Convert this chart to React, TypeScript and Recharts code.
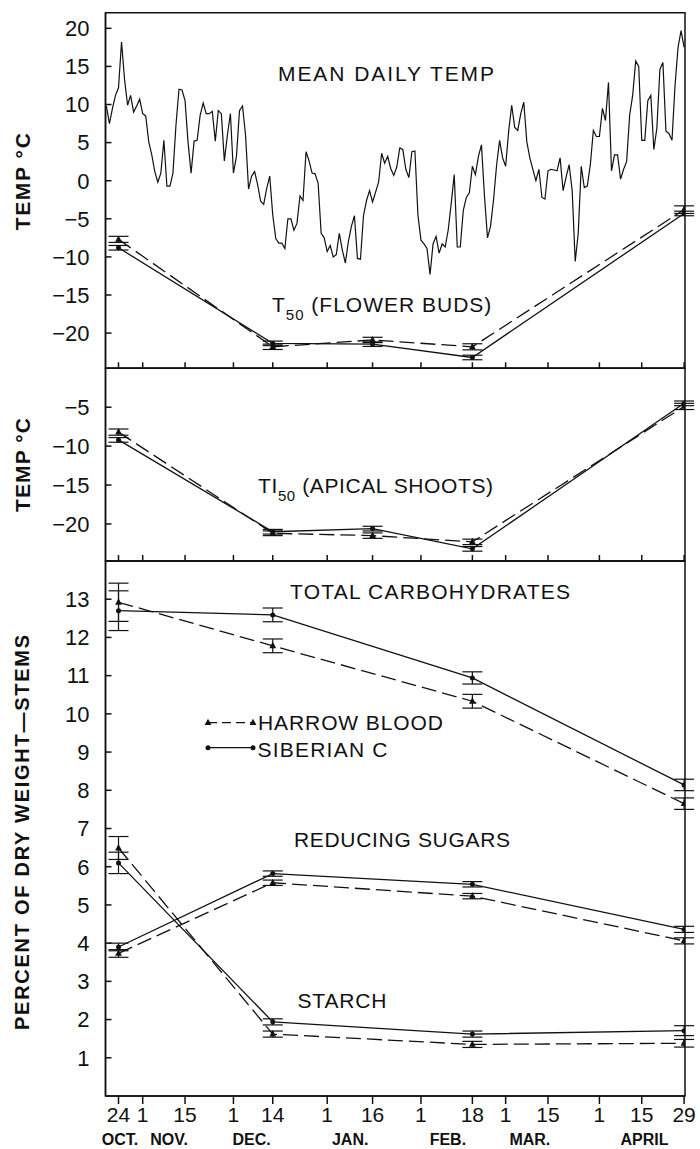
import React from "react";
import { ErrorBar, Line, LineChart, ReferenceArea, XAxis, YAxis } from "recharts";

// mean daily temperature, one value per day starting Oct 20 (day -4 from Oct 24)
const TEMP_START_DAY = -4;
const meanDailyTemp = [
  9.8, 7.5, 9.5, 11.2, 12.2, 18.2, 13.3, 9.9, 11.2, 9.0,
  9.8, 10.7, 8.8, 8.5, 5.1, 3.4, 1.2, -0.2, 1.0, 5.3,
  -0.7, -0.7, 1.0, 7.3, 12.0, 11.9, 10.5, 5.0, 1.0, 5.2,
  5.3, 8.6, 10.2, 8.8, 8.8, 9.1, 5.2, 9.2, 8.8, 2.6,
  6.0, 8.8, 1.0, 3.2, 9.2, 9.8, 6.0, -1.1, 0.6, 1.2,
  -0.5, -2.7, -3.1, -1.0, 0.6, -4.5, -7.6, -8.2, -8.2, -8.9,
  -5.0, -5.0, -6.5, -5.6, -2.0, -2.6, 3.8, 2.6, 1.0, 0.9,
  -0.3, -6.9, -7.5, -9.3, -8.5, -10.0, -9.7, -6.9, -9.1, -10.8,
  -8.0, -6.0, -4.6, -10.2, -10.3, -4.6, -2.6, -1.3, -2.8, -1.5,
  -0.2, 3.6, 2.3, 3.2, 1.6, 0.7, 1.8, 4.3, 4.1, 1.5,
  0.4, 3.8, 3.9, -4.5, -7.8, -8.3, -8.9, -12.3, -8.3, -7.3,
  -9.5, -8.3, -8.7, -6.5, -3.0, 0.8, -8.7, -8.7, -3.9, -2.2,
  -1.6, 1.9, 0.8, 3.2, 4.7, -2.0, -7.5, -6.0, -2.5, 2.0,
  5.3, 3.0, 1.9, 6.5, 9.9, 7.0, 6.6, 8.8, 10.3, 5.1,
  3.0, 1.5, 0.0, 1.5, -2.2, -2.4, 1.3, 1.5, 1.4, 1.3,
  3.0, -1.3, 0.5, 2.1, -1.3, -10.6, -6.9, 1.9, -0.9, -0.7,
  2.1, 6.6, 5.8, 5.8, 9.5, 7.9, 12.9, 1.3, 3.4, 3.4,
  0.2, 1.5, 2.5, 8.6, 11.2, 15.7, 15.0, 5.3, 5.3, 10.5,
  11.2, 4.1, 6.9, 14.6, 15.5, 6.5, 6.2, 5.3, 12.5, 17.5,
  19.7, 17.5,
];

// hardiness sampling dates (days after Oct 24)
const hardinessDays = [0, 51, 84, 117, 187];
const t50Harrow = [-7.7, -21.8, -20.9, -21.8, -3.8];
const t50HarrowErr = [0.4, 0.35, 0.35, 0.4, 0.5];
const t50Siberian = [-8.8, -21.35, -21.45, -23.2, -4.3];
const t50SiberianErr = [0.3, 0.3, 0.3, 0.3, 0.3];

const ti50Harrow = [-8.2, -21.2, -21.5, -22.3, -4.9];
const ti50HarrowErr = [0.4, 0.3, 0.35, 0.35, 0.4];
const ti50Siberian = [-9.2, -21.0, -20.6, -23.2, -4.5];
const ti50SiberianErr = [0.3, 0.3, 0.3, 0.3, 0.3];

// carbohydrate sampling dates
const carbDays = [0, 51, 117, 187];
const totalHarrow = [12.92, 11.78, 10.33, 7.65];
const totalHarrowErr = [0.5, 0.18, 0.18, 0.15];
const totalSiberian = [12.7, 12.59, 10.94, 8.14];
const totalSiberianErr = [0.52, 0.18, 0.16, 0.15];

const sugarHarrow = [3.73, 5.58, 5.23, 4.06];
const sugarHarrowErr = [0.1, 0.07, 0.07, 0.08];
const sugarSiberian = [3.9, 5.82, 5.54, 4.36];
const sugarSiberianErr = [0.1, 0.07, 0.07, 0.08];

const starchHarrow = [6.49, 1.62, 1.35, 1.38];
const starchHarrowErr = [0.3, 0.08, 0.08, 0.1];
const starchSiberian = [6.1, 1.94, 1.62, 1.71];
const starchSiberianErr = [0.28, 0.08, 0.08, 0.13];

const dayTicks = [0, 8, 22, 38, 51, 69, 84, 100, 117, 128, 142, 159, 173, 187];
const dayLabels = ["24", "1", "15", "1", "14", "1", "16", "1", "18", "1", "15", "1", "15", "29"];
const monthTicks = [0.5, 16.7, 44, 76.6, 108.9, 136, 173.9];
const monthLabels = ["OCT.", "NOV.", "DEC.", "JAN.", "FEB.", "MAR.", "APRIL"];

const tempTicks1 = [20, 15, 10, 5, 0, -5, -10, -15, -20];
const tempTicks2 = [-5, -10, -15, -20];
const pctTicks = [1, 2, 3, 4, 5, 6, 7, 8, 9, 10, 11, 12, 13];

const X_DOMAIN: [number, number] = [-4.3, 187.3];
const DOM1: [number, number] = [-24.62, 22.05];
const DOM2: [number, number] = [-24.76, 0];
const DOM3: [number, number] = [0, 14];

const ink = "#111";
const font = "'Liberation Sans', Arial, Helvetica, sans-serif";
const DASH = "15 6";

const tempPoints = meanDailyTemp.map((t, i) => ({ day: TEMP_START_DAY + i, t }));
const monthPoints = monthTicks.map((d) => ({ day: d, m: 1 }));
const pts = (days: number[], v: number[], e: number[]) => days.map((d, i) => ({ day: d, v: v[i], e: e[i] }));

const minus = (v: number) => String(v).replace("-", "\u2212");

function Tri(props: any) {
  const { cx, cy } = props;
  if (cx == null || cy == null) return null;
  return <path d={`M${cx},${cy - 4}L${cx + 3.4},${cy + 2.4}L${cx - 3.4},${cy + 2.4}Z`} fill={ink} />;
}

function Dot(props: any) {
  const { cx, cy } = props;
  if (cx == null || cy == null) return null;
  return <circle cx={cx} cy={cy} r={2.5} fill={ink} />;
}

const triDot = (p: any) => <Tri key={`t${p.index}`} cx={p.cx} cy={p.cy} />;
const roundDot = (p: any) => <Dot key={`d${p.index}`} cx={p.cx} cy={p.cy} />;

function harrow(data: any[], key: string) {
  return (
    <Line key={key} data={data} dataKey="v" stroke={ink} strokeWidth={1.3} strokeDasharray={DASH}
      dot={triDot} activeDot={false} isAnimationActive={false}>
      <ErrorBar dataKey="e" width={10} stroke={ink} strokeWidth={1.2} direction="y" />
    </Line>
  );
}

function siberian(data: any[], key: string) {
  return (
    <Line key={key} data={data} dataKey="v" stroke={ink} strokeWidth={1.3}
      dot={roundDot} activeDot={false} isAnimationActive={false}>
      <ErrorBar dataKey="e" width={10} stroke={ink} strokeWidth={1.2} direction="y" />
    </Line>
  );
}

const tickStyle = { fontSize: 22, fill: ink, fontFamily: font };

export default function App() {
  return (
    <div style={{ position: "absolute", left: 0, top: 0, width: 700, height: 1149, background: "#fff", fontFamily: font }}>
      <div style={{ position: "absolute", left: 0, top: 0 }}>
        <LineChart width={700} height={370} margin={{ top: 12.7, right: 15, bottom: 0.7, left: 0 }}>
          <XAxis dataKey="day" type="number" domain={X_DOMAIN} allowDataOverflow ticks={dayTicks} interval={0}
            height={1} tickSize={-6} tickFormatter={() => ""} stroke={ink} strokeWidth={1.5} />
          <YAxis type="number" domain={DOM1} allowDataOverflow ticks={tempTicks1} interval={0} width={105.5}
            tickSize={-6} tickMargin={22} tickFormatter={minus} tick={tickStyle} stroke={ink} strokeWidth={1.5} />
          <ReferenceArea x1={X_DOMAIN[0]} x2={X_DOMAIN[1]} y1={DOM1[0]} y2={DOM1[1]} fill="none"
            stroke={ink} strokeWidth={1.5} ifOverflow="visible" />
          <Line data={tempPoints} dataKey="t" stroke={ink} strokeWidth={1.2} dot={false} activeDot={false}
            isAnimationActive={false} />
          {harrow(pts(hardinessDays, t50Harrow, t50HarrowErr), "t50h")}
          {siberian(pts(hardinessDays, t50Siberian, t50SiberianErr), "t50s")}
        </LineChart>
      </div>

      <div style={{ position: "absolute", left: 0, top: 360 }}>
        <LineChart width={700} height={211} margin={{ top: 8.3, right: 15, bottom: 9, left: 0 }}>
          <XAxis dataKey="day" type="number" domain={X_DOMAIN} allowDataOverflow ticks={dayTicks} interval={0}
            height={1} tickSize={-6} tickFormatter={() => ""} stroke={ink} strokeWidth={1.5} />
          <YAxis type="number" domain={DOM2} allowDataOverflow ticks={tempTicks2} interval={0} width={105.5}
            tickSize={-6} tickMargin={22} tickFormatter={minus} tick={tickStyle} stroke={ink} strokeWidth={1.5} />
          <ReferenceArea x1={X_DOMAIN[0]} x2={X_DOMAIN[1]} y1={DOM2[0]} y2={DOM2[1]} fill="none"
            stroke={ink} strokeWidth={1.5} ifOverflow="visible" />
          {harrow(pts(hardinessDays, ti50Harrow, ti50HarrowErr), "ti50h")}
          {siberian(pts(hardinessDays, ti50Siberian, ti50SiberianErr), "ti50s")}
        </LineChart>
      </div>

      <div style={{ position: "absolute", left: 0, top: 550 }}>
        <LineChart width={700} height={599} margin={{ top: 11, right: 15, bottom: 0, left: 0 }}>
          <XAxis dataKey="day" type="number" domain={X_DOMAIN} allowDataOverflow ticks={dayTicks} interval={0}
            height={30} tickSize={8} tickMargin={3}
            tickFormatter={(v: number) => dayLabels[dayTicks.indexOf(v)] ?? ""}
            tick={{ fontSize: 21, fill: ink, fontFamily: font }} stroke={ink} strokeWidth={1.5} />
          <XAxis xAxisId="months" dataKey="day" type="number" domain={X_DOMAIN} allowDataOverflow ticks={monthTicks}
            interval={0} height={23} tickLine={false} axisLine={false} tickMargin={2}
            tickFormatter={(v: number) => monthLabels[monthTicks.indexOf(v)] ?? ""}
            tick={{ fontSize: 16, fontWeight: "bold", fill: ink, fontFamily: font }} />
          <YAxis type="number" domain={DOM3} allowDataOverflow ticks={pctTicks} interval={0} width={105.5}
            tickSize={-6} tickMargin={22} tick={tickStyle} stroke={ink} strokeWidth={1.5} />
          <ReferenceArea x1={X_DOMAIN[0]} x2={X_DOMAIN[1]} y1={DOM3[0]} y2={DOM3[1]} fill="none"
            stroke={ink} strokeWidth={1.5} ifOverflow="visible" />
          {/* invisible series so the month-name axis is drawn */}
          <Line xAxisId="months" data={monthPoints} dataKey="m" stroke="none" dot={false} activeDot={false}
            legendType="none" isAnimationActive={false} />
          {harrow(pts(carbDays, totalHarrow, totalHarrowErr), "toth")}
          {siberian(pts(carbDays, totalSiberian, totalSiberianErr), "tots")}
          {harrow(pts(carbDays, sugarHarrow, sugarHarrowErr), "sugh")}
          {siberian(pts(carbDays, sugarSiberian, sugarSiberianErr), "sugs")}
          {harrow(pts(carbDays, starchHarrow, starchHarrowErr), "sth")}
          {siberian(pts(carbDays, starchSiberian, starchSiberianErr), "sts")}
        </LineChart>
      </div>

      <svg width={700} height={1149} style={{ position: "absolute", left: 0, top: 0, pointerEvents: "none" }}
        fontFamily={font} fill={ink}>
        <text transform="translate(22,181.7) rotate(-90)" textAnchor="middle" dominantBaseline="central"
          fontSize={21} fontWeight="bold" textLength={97} lengthAdjust="spacing">TEMP °C</text>
        <text transform="translate(22,465) rotate(-90)" textAnchor="middle" dominantBaseline="central"
          fontSize={21} fontWeight="bold" textLength={94} lengthAdjust="spacing">TEMP °C</text>
        <text transform="translate(22,832.5) rotate(-90)" textAnchor="middle" dominantBaseline="central"
          fontSize={20} fontWeight="bold" textLength={395} lengthAdjust="spacing">PERCENT OF DRY WEIGHT—STEMS</text>

        <text x={278} y={81} fontSize={21} textLength={216} lengthAdjust="spacing">MEAN DAILY TEMP</text>
        <text x={272} y={311.5} fontSize={21} letterSpacing={1}>
          T<tspan fontSize={15} dy={8}>50</tspan><tspan dy={-8}> (FLOWER BUDS)</tspan>
        </text>
        <text x={258} y={493} fontSize={21} letterSpacing={0.6}>
          TI<tspan fontSize={15} dy={8}>50</tspan><tspan dy={-8}> (APICAL SHOOTS)</tspan>
        </text>
        <text x={290} y={599} fontSize={21} textLength={280} lengthAdjust="spacing">TOTAL CARBOHYDRATES</text>
        <text x={294} y={847} fontSize={21} textLength={216} lengthAdjust="spacing">REDUCING SUGARS</text>
        <text x={297.5} y={1007.5} fontSize={21} textLength={89} lengthAdjust="spacing">STARCH</text>

        <line x1={208} y1={722.7} x2={253} y2={722.7} stroke={ink} strokeWidth={1.3} strokeDasharray="9 5" />
        <Tri cx={208} cy={722.7} />
        <Tri cx={253} cy={722.7} />
        <text x={258} y={729.5} fontSize={21} textLength={185} lengthAdjust="spacing">HARROW BLOOD</text>
        <line x1={208} y1={747.7} x2={253} y2={747.7} stroke={ink} strokeWidth={1.3} />
        <Dot cx={208} cy={747.7} />
        <Dot cx={253} cy={747.7} />
        <text x={257.5} y={756.5} fontSize={21} textLength={130} lengthAdjust="spacing">SIBERIAN C</text>
      </svg>
    </div>
  );
}
